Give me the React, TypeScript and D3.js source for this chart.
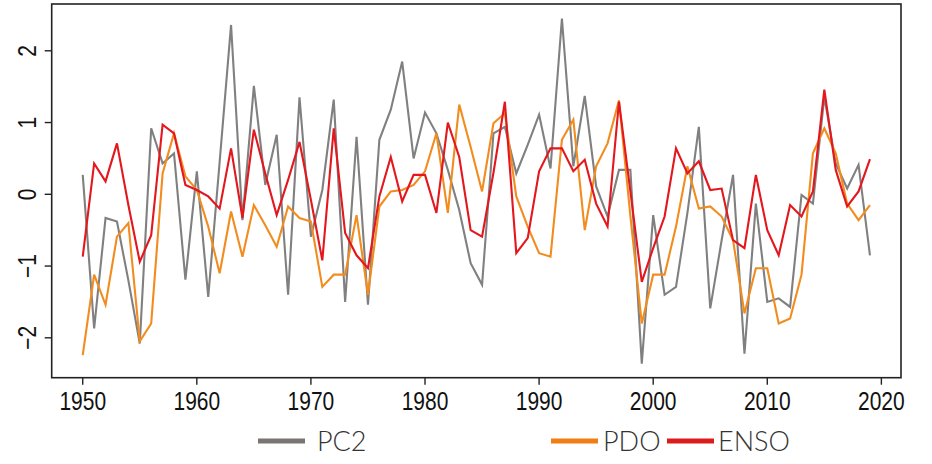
import React from "react";
import * as d3 from "d3";

const years: number[] = d3.range(1950, 2020);

const pc2: number[] = [
  0.27, -1.87, -0.33, -0.38, -1.2, -2.08, 0.92, 0.43, 0.57, -1.19,
  0.32, -1.43, 0.45, 2.36, -0.36, 1.51, 0.13, 0.83, -1.4, 1.35,
  -0.59, 0.06, 1.32, -1.5, 0.8, -1.54, 0.76, 1.18, 1.85, 0.5,
  1.14, 0.85, 0.34, -0.22, -0.96, -1.26, 0.85, 0.94, 0.29, 0.69,
  1.11, 0.36, 2.45, 0.39, 1.37, 0.11, -0.31, 0.34, 0.34, -2.36,
  -0.29, -1.4, -1.29, -0.26, 0.94, -1.59, -0.64, 0.27, -2.22, -0.13,
  -1.5, -1.45, -1.57, -0.01, -0.13, 1.36, 0.43, 0.08, 0.41, -0.85,
];

const pdo: number[] = [
  -2.24, -1.12, -1.54, -0.59, -0.4, -2.05, -1.8, 0.29, 0.85, 0.25,
  0.06, -0.45, -1.1, -0.24, -0.87, -0.15, -0.43, -0.73, -0.17, -0.33,
  -0.38, -1.29, -1.12, -1.12, -0.29, -1.4, -0.17, 0.04, 0.06, 0.13,
  0.32, 0.85, -0.26, 1.25, 0.66, 0.04, 0.99, 1.13, -0.03, -0.45,
  -0.82, -0.87, 0.76, 1.04, -0.5, 0.39, 0.71, 1.31, -0.3, -1.8,
  -1.12, -1.12, -0.45, 0.39, -0.2, -0.17, -0.31, -0.64, -1.66, -1.03,
  -1.03, -1.8, -1.73, -1.12, 0.57, 0.92, 0.57, -0.13, -0.36, -0.15,
];

const enso: number[] = [
  -0.87, 0.43, 0.18, 0.71, -0.15, -0.94, -0.57, 0.97, 0.85, 0.13,
  0.06, -0.03, -0.2, 0.64, -0.33, 0.9, 0.29, -0.29, 0.2, 0.73,
  -0.08, -0.92, 0.92, -0.54, -0.85, -1.03, -0.03, 0.52, -0.1, 0.27,
  0.27, -0.26, 1.0, 0.52, -0.5, -0.59, 0.3, 1.29, -0.82, -0.61,
  0.32, 0.64, 0.64, 0.32, 0.48, -0.13, -0.45, 1.29, 0.04, -1.22,
  -0.75, -0.31, 0.64, 0.29, 0.46, 0.06, 0.08, -0.64, -0.75, 0.27,
  -0.5, -0.85, -0.15, -0.31, 0.04, 1.46, 0.34, -0.17, 0.04, 0.49,
];

const xTicks: number[] = [1950, 1960, 1970, 1980, 1990, 2000, 2010, 2020];
const yTicks: number[] = [-2, -1, 0, 1, 2];

const seriesNames: string[] = ["PC2", "PDO", "ENSO"];
const seriesColors: string[] = ["#808080", "#f28c1e", "#e3171d"];
const legendColors: string[] = ["#7a7474", "#f07e14", "#dc1c1c"];

export default function App() {
  const W = 932;
  const H = 464;
  const left = 51.7;
  const right = 901;
  const top = 4;
  const bottom = 377.7;

  const x = d3.scaleLinear().domain([1947.28, 2021.72]).range([left, right]);
  const y = d3.scaleLinear().domain([-2.556, 2.652]).range([bottom, top]);

  const line = d3
    .line<[number, number]>()
    .x((d) => x(d[0]))
    .y((d) => y(d[1]));

  const allSeries = [pc2, pdo, enso];
  const tickFont = "'Liberation Sans', Arial, sans-serif";

  const legendItems = [
    { swatch: 258, text: 317 },
    { swatch: 551, text: 603 },
    { swatch: 667, text: 718 },
  ];

  return (
    <svg
      width={W}
      height={H}
      style={{ position: "absolute", left: 0, top: 0, background: "#fff" }}
    >
      <rect x={0} y={0} width={W} height={H} fill="#fff" />
      {allSeries.map((s, i) => (
        <path
          key={seriesNames[i]}
          d={line(years.map((yr, j) => [yr, s[j]] as [number, number])) || ""}
          fill="none"
          stroke={seriesColors[i]}
          strokeWidth={2.1}
          strokeLinejoin="miter"
        />
      ))}
      <rect
        x={left}
        y={top}
        width={right - left}
        height={bottom - top}
        fill="none"
        stroke="#222"
        strokeWidth={1.6}
      />
      {xTicks.map((t) => (
        <g key={t} transform={`translate(${x(t)},${bottom})`}>
          <line y1={0} y2={7} stroke="#222" strokeWidth={1.4} />
          <text
            transform="translate(0,32) scale(0.84,1)"
            textAnchor="middle"
            fontFamily={tickFont}
            fontSize={25}
            fill="#111"
          >
            {t}
          </text>
        </g>
      ))}
      {yTicks.map((t) => (
        <g key={t} transform={`translate(${left},${y(t)})`}>
          <line x1={0} x2={-7} stroke="#222" strokeWidth={1.4} />
          <text
            transform="translate(-16,0) rotate(-90) scale(0.84,1)"
            textAnchor="middle"
            fontFamily={tickFont}
            fontSize={25}
            fill="#111"
          >
            {t < 0 ? `\u2212${Math.abs(t)}` : `${t}`}
          </text>
        </g>
      ))}
      {legendItems.map((it, i) => (
        <g key={seriesNames[i]}>
          <line
            x1={it.swatch}
            x2={it.swatch + 47}
            y1={441}
            y2={441}
            stroke={legendColors[i]}
            strokeWidth={5}
          />
          <text
            x={it.text}
            y={451}
            fontFamily="Lato, 'Open Sans', sans-serif"
            fontWeight={300}
            fontSize={27}
            fill="#333"
          >
            {seriesNames[i]}
          </text>
        </g>
      ))}
    </svg>
  );
}
